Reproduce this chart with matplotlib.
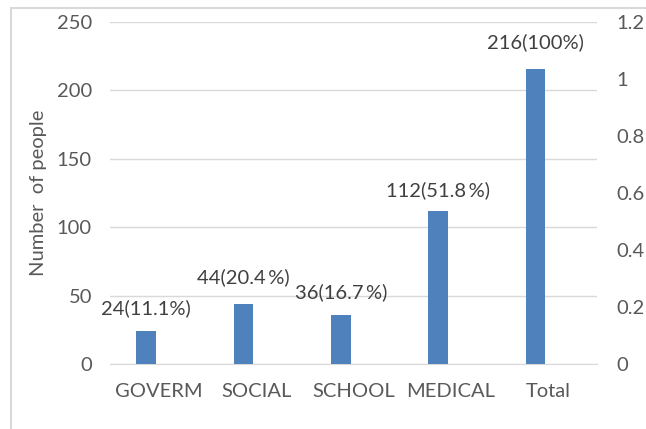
import matplotlib
matplotlib.use("Agg")
import matplotlib.pyplot as plt
import numpy as np
from matplotlib.patches import Rectangle

# data
categories = ["GOVERM", "SOCIAL", "SCHOOL", "MEDICAL", "Total"]
counts = [24, 44, 36, 112, 216]
labels = ["24(11.1%)", "44(20.4\u2009%)", "36(16.7\u2009%)", "112(51.8\u2009%)", "216(100%)"]
left_ticks = [0, 50, 100, 150, 200, 250]
right_ticks = [0, 0.2, 0.4, 0.6, 0.8, 1.0, 1.2]
right_ticklabels = ["0", "0.2", "0.4", "0.6", "0.8", "1", "1.2"]

# label heights above bar tops (points), as placed in the original
label_dy = [16.5, 19.5, 16.5, 14.5, 19]

grey = "#595959"
bar_col = "#4f81bd"
fs = 14.5
plt.rcParams["font.family"] = ["Lato", "DejaVu Sans"]

fig = plt.figure(figsize=(6.46, 4.29), dpi=100)
ax = fig.add_axes([110 / 646, 1 - 364 / 429, (597 - 110) / 646, (364 - 22) / 429])

x = np.arange(len(categories))
# bars sit left of the category centre (empty second series on the right)
bx = x - 0.13
ax.bar(bx, counts, width=0.2, color=bar_col, zorder=3)
for i, (c, t) in enumerate(zip(counts, labels)):
    ax.annotate(t, (bx[i], c), xytext=(0, label_dy[i]), textcoords="offset points",
                ha="center", va="center", fontsize=fs, color="#404040")

ax.set_xlim(-0.5, len(categories) - 0.5)
ax.set_ylim(0, 250)
ax.set_yticks(left_ticks)
ax.set_xticks(x)
ax.set_xticklabels(categories)
ax.tick_params(axis="both", length=0, labelsize=fs, colors=grey)
ax.tick_params(axis="y", pad=13)
ax.tick_params(axis="x", pad=14)
ax.grid(axis="y", color="#d9d9d9", linewidth=1, zorder=0)
for s in ["top", "right", "left"]:
    ax.spines[s].set_visible(False)
ax.spines["bottom"].set_color("#d9d9d9")
ax.set_ylabel("Number  of people", fontsize=fs, color=grey, labelpad=7)

ax2 = ax.twinx()
ax2.set_ylim(0, 1.2)
ax2.set_yticks(right_ticks)
ax2.set_yticklabels(right_ticklabels)
ax2.tick_params(axis="y", length=0, labelsize=fs, colors=grey, pad=14)
for s in ax2.spines.values():
    s.set_visible(False)

# chart frame (cropped at right and bottom)
fig.patches.append(Rectangle((11 / 646, -0.1), 1.2, 1 - 8 / 429 + 0.1, transform=fig.transFigure,
                             fill=False, edgecolor="#d9d9d9", linewidth=1.5))

fig.savefig("out.png", dpi=100)
